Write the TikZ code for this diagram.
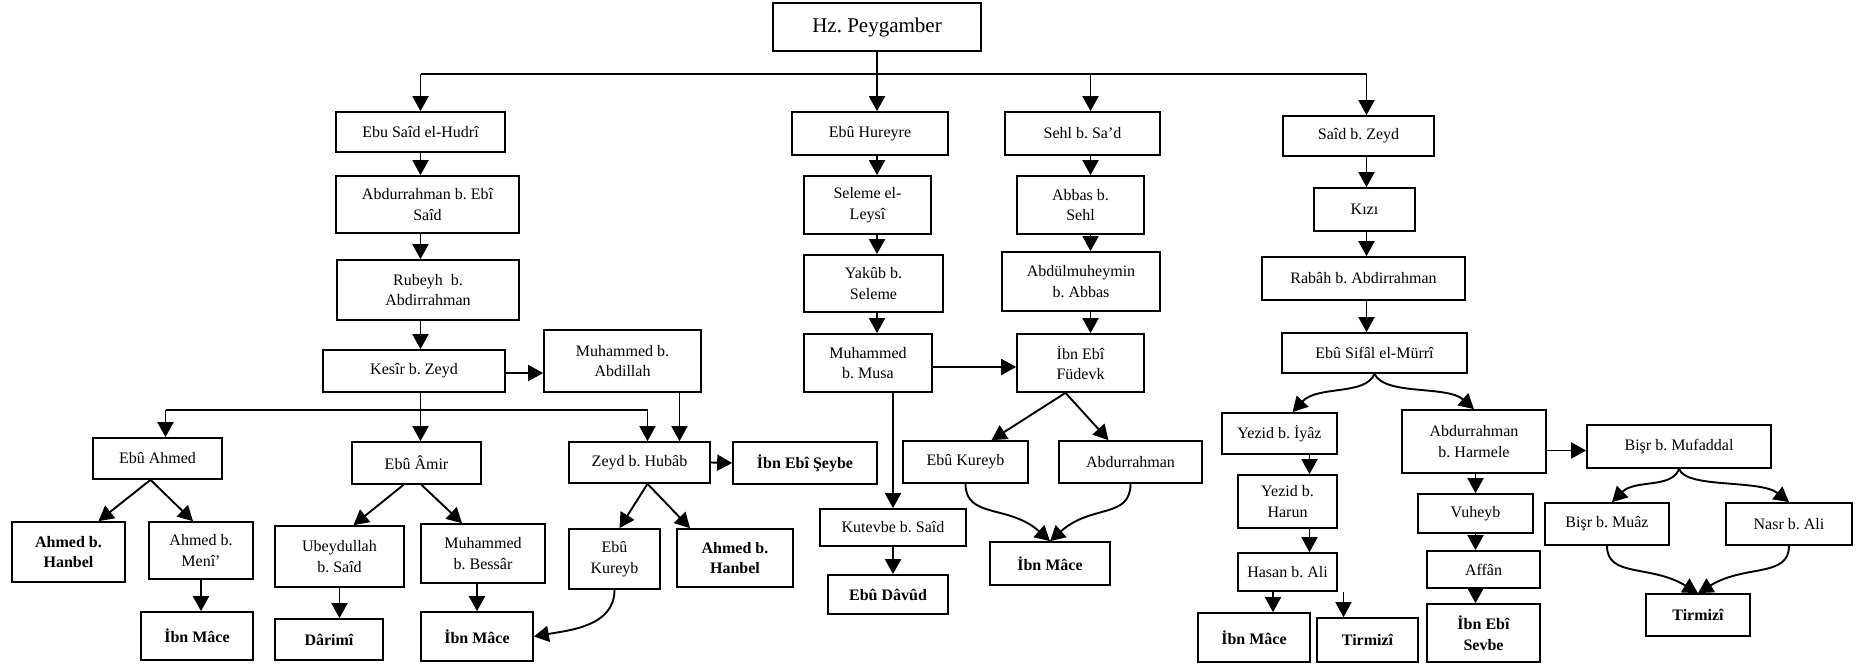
\documentclass[tikz,border=0pt]{standalone}
\usepackage{fontspec}
\setmainfont{Liberation Serif}
\usetikzlibrary{arrows.meta}
\begin{document}
\frenchspacing
\begin{tikzpicture}[x=1pt,y=-1pt,
  box/.style={draw,line width=1.7pt,inner sep=1pt,align=center,
              font=\fontsize{16}{20.5}\selectfont},
  bbox/.style={box,font=\fontsize{16}{20.5}\selectfont\bfseries},
  link/.style={line width=1.9pt},
  arr/.style={link,-{Triangle[length=15pt,width=16pt]}},
]
% \namebox[style]{name}{x1}{y1}{x2}{y2}{text}: a box given by its corners
\newcommand\namebox[7][box]{%
  \node[#1,minimum width={#5-#3},minimum height={#6-#4}] (#2)
    at ({(#3+#5)/2},{(#4+#6)/2}) {#7};}
\useasboundingbox (0,0) rectangle (1858,666);

% ---------- top ----------
\namebox[box,font=\fontsize{21}{25}\selectfont]{hz}{773}{3}{981}{51}{Hz. Peygamber}

% ---------- first branch ----------
\namebox{es}{336}{112}{505}{152}{Ebu Saîd el-Hudrî}
\namebox{ab}{336}{176}{519}{233}{Abdurrahman b. Ebî\\Saîd}
\namebox{rb}{337}{260}{519}{320}{Rubeyh~ b.\\Abdirrahman}
\namebox{ks}{323}{350}{505}{392}{Kesîr b. Zeyd}
\namebox{ma}{544}{330}{701}{392}{Muhammed b.\\Abdillah}
\namebox{ea}{93}{438}{222}{479}{Ebû Ahmed}
\namebox{eam}{352}{442}{481}{484}{Ebû Âmir}
\namebox{zh}{569}{442}{710}{483}{Zeyd b. Hubâb}
\namebox[bbox]{ies}{733}{442}{877}{484}{İbn Ebî Şeybe}
\namebox[bbox]{ahba}{12}{522}{125}{582}{Ahmed b.\\Hanbel}
\namebox{amn}{149}{522}{253}{579}{Ahmed b.\\Menî’}
\namebox[bbox]{ima}{141}{612}{253}{660}{İbn Mâce}
\namebox{ubs}{275}{526}{404}{587}{Ubeydullah\\b. Saîd}
\namebox{mbb}{421}{524}{545}{583}{Muhammed\\b. Bessâr}
\namebox[bbox]{dar}{275}{619}{383}{660}{Dârimî}
\namebox[bbox]{imb}{421}{612}{533}{661}{İbn Mâce}
\namebox{eka}{569}{529}{660}{589}{Ebû\\Kureyb}
\namebox[bbox]{ahbb}{677}{529}{793}{587}{Ahmed b.\\Hanbel}

% ---------- second branch ----------
\namebox{eh}{792}{112}{948}{155}{Ebû Hureyre}
\namebox{sl}{804}{176}{931}{234}{Seleme el-\\Leysî}
\namebox{yk}{804}{255}{943}{312}{Yakûb b.\\Seleme}
\namebox{mm}{804}{334}{932}{392}{Muhammed\\b. Musa}
\namebox{kut}{820}{509}{966}{546}{Kutevbe b. Saîd}
\namebox[bbox]{ed}{828}{575}{948}{614}{Ebû Dâvûd}

% ---------- third branch ----------
\namebox{sh}{1005}{112}{1160}{155}{Sehl b. Sa’d}
\namebox{abs}{1017}{176}{1144}{234}{Abbas b.\\Sehl}
\namebox{adm}{1002}{252}{1160}{311}{Abdülmuheymin\\b. Abbas}
\namebox{ief}{1017}{334}{1144}{392}{İbn Ebî\\Füdevk}
\namebox{ekb}{903}{441}{1028}{483}{Ebû Kureyb}
\namebox{abr}{1059}{441}{1202}{483}{Abdurrahman}
\namebox[bbox]{imc}{990}{542}{1110}{585}{İbn Mâce}

% ---------- fourth branch ----------
\namebox{sz}{1283}{116}{1434}{156}{Saîd b. Zeyd}
\namebox{kz}{1314}{188}{1415}{231}{Kızı}
\namebox{rab}{1262}{257}{1465}{300}{Rabâh b. Abdirrahman}
\namebox{esm}{1282}{333}{1467}{373}{Ebû Sifâl el-Mürrî}
\namebox{yi}{1222}{413}{1337}{454}{Yezid b. İyâz}
\namebox{yh}{1238}{475}{1337}{528}{Yezid b.\\Harun}
\namebox{ha}{1238}{553}{1337}{591}{Hasan b. Ali}
\namebox[bbox]{imd}{1198}{613}{1310}{662}{İbn Mâce}
\namebox[bbox]{tra}{1317}{618}{1418}{662}{Tirmizî}
\namebox{ahr}{1402}{410}{1546}{473}{Abdurrahman\\b. Harmele}
\namebox{vh}{1418}{494}{1533}{533}{Vuheyb}
\namebox{af}{1427}{551}{1540}{588}{Affân}
\namebox[bbox]{iesb}{1427}{604}{1540}{662}{İbn Ebî\\Sevbe}
\namebox{bm}{1587}{425}{1771}{468}{Bişr b. Mufaddal}
\namebox{bmz}{1545}{503}{1669}{545}{Bişr b. Muâz}
\namebox{nsr}{1726}{503}{1852}{545}{Nasr b. Ali}
\namebox[bbox]{trb}{1646}{594}{1750}{636}{Tirmizî}

% ---------- connectors ----------
% main bus below Hz. Peygamber
\coordinate (bus) at (0,74);
\coordinate (shin) at ([xshift=8pt]sh.north);
\coordinate (szin) at ([xshift=8pt]sz.north);
\draw[link] (es.north |- bus) -- (szin |- bus);
\draw[arr] (es.north |- bus) -- (es.north);
\draw[arr] (hz.south) -- (hz.south |- eh.north);
\draw[arr] (shin |- bus) -- (shin);
\draw[arr] (szin |- bus) -- (szin);

% first branch
\draw[arr] (es.south) -- (ab.north -| es);
\draw[arr] (ab.south -| es) -- (rb.north -| es);
\draw[arr] (rb.south -| es) -- (ks.north -| es);
\coordinate (ksout) at ([yshift=-2pt]ks.east);
\draw[arr] (ksout) -- (ksout -| ma.west);
\coordinate (bustwo) at (0,410);
\coordinate (eain) at ([xshift=8pt]ea.north);
\coordinate (zhin) at ([xshift=8pt]zh.north);
\coordinate (zhinb) at ([xshift=40pt]zh.north);
\draw[link] (eain |- bustwo) -- (zhin |- bustwo);
\draw[arr] (eain |- bustwo) -- (eain);
\draw[arr] (zhin |- bustwo) -- (zhin);
\draw[arr] (ks.south -| es) -- (eam.north -| es);
\draw[arr] (ma.south -| zhinb) -- (zhinb);
\draw[arr] ([xshift=-7pt]ea.south) -- ([xshift=30pt]ahba.north);
\draw[arr] ([xshift=-7pt]ea.south) -- ([xshift=-8pt]amn.north);
\draw[arr] (amn.south) -- (amn.south |- ima.north);
\draw[arr] ([xshift=-13pt]eam.south) -- ([xshift=14pt]ubs.north);
\draw[arr] ([xshift=5pt]eam.south) -- ([xshift=-21pt]mbb.north);
\draw[arr] (ubs.south) -- (ubs.south |- dar.north);
\draw[arr] (imb.north |- mbb.south) -- (imb.north);
\draw[arr] (zh.east) -- (ies.west);
\draw[arr] ([xshift=8pt]zh.south) -- ([xshift=5pt]eka.north);
\draw[arr] ([xshift=8pt]zh.south) -- ([xshift=-45pt]ahbb.north);
\draw[arr] (eka.south) to[out=-90,in=10] (imb.east);

% second branch
\draw[arr] (eh.south -| hz) -- (sl.north -| hz);
\draw[arr] (sl.south -| hz) -- (yk.north -| hz);
\draw[arr] (yk.south -| hz) -- (mm.north -| hz);
\draw[arr] (kut.north |- mm.south) -- (kut.north);
\draw[arr] (kut.south) -- (kut.south |- ed.north);
\coordinate (mmout) at ([yshift=-4pt]mm.east);
\draw[arr] (mmout) -- (mmout -| ief.west);

% third branch
\draw[arr] (sh.south -| shin) -- (abs.north -| shin);
\draw[arr] (abs.south -| shin) -- (adm.north -| shin);
\draw[arr] (adm.south -| shin) -- (ief.north -| shin);
\draw[arr] ([xshift=-15pt]ief.south) -- ([xshift=26pt]ekb.north);
\draw[arr] ([xshift=-15pt]ief.south) -- ([xshift=-22pt]abr.north);
\draw[arr] (ekb.south) .. controls +(0,35) and +(-41,-37) .. (imc.north);
\draw[arr] (abr.south) .. controls +(0,35) and +(41,-37) .. (imc.north);

% fourth branch
\draw[arr] (sz.south -| szin) -- (kz.north -| szin);
\draw[arr] (kz.south -| szin) -- (rab.north -| szin);
\draw[arr] (rab.south -| szin) -- (esm.north -| szin);
\draw[arr] (esm.south) .. controls +(-9,22) and +(25,-27) .. ([xshift=13pt]yi.north);
\draw[arr] (esm.south) .. controls +(10,22) and +(-27,-24) .. (ahr.north);
\coordinate (yx) at ([xshift=30pt]yi.south);
\draw[arr] (yx) -- (yx |- yh.north);
\draw[arr] (yh.south -| yx) -- (ha.north -| yx);
\coordinate (imdin) at ([xshift=19pt]imd.north);
\coordinate (train) at ([xshift=-24pt]tra.north);
\draw[arr] (imdin |- ha.south) -- (imdin);
\draw[arr] (train |- ha.south) -- (train);
\draw[arr] (vh.north |- ahr.south) -- (vh.north);
\draw[arr] (vh.south) -- (vh.south |- af.north);
\draw[arr] (vh.south |- af.south) -- (vh.south |- iesb.north);
\coordinate (ahrout) at ([yshift=-9pt]ahr.east);
\draw[arr] (ahrout) -- (ahrout -| bm.west);
\draw[arr] (bm.south) .. controls +(-7,20) and +(23,-23) .. ([xshift=5pt]bmz.north);
\draw[arr] (bm.south) .. controls +(7,20) and +(-29,-23) .. (nsr.north);
\draw[arr] (bmz.south) .. controls +(0,32) and +(-48,-29) .. (trb.north);
\draw[arr] (nsr.south) .. controls +(0,32) and +(47,-29) .. (trb.north);
\end{tikzpicture}
\end{document}
